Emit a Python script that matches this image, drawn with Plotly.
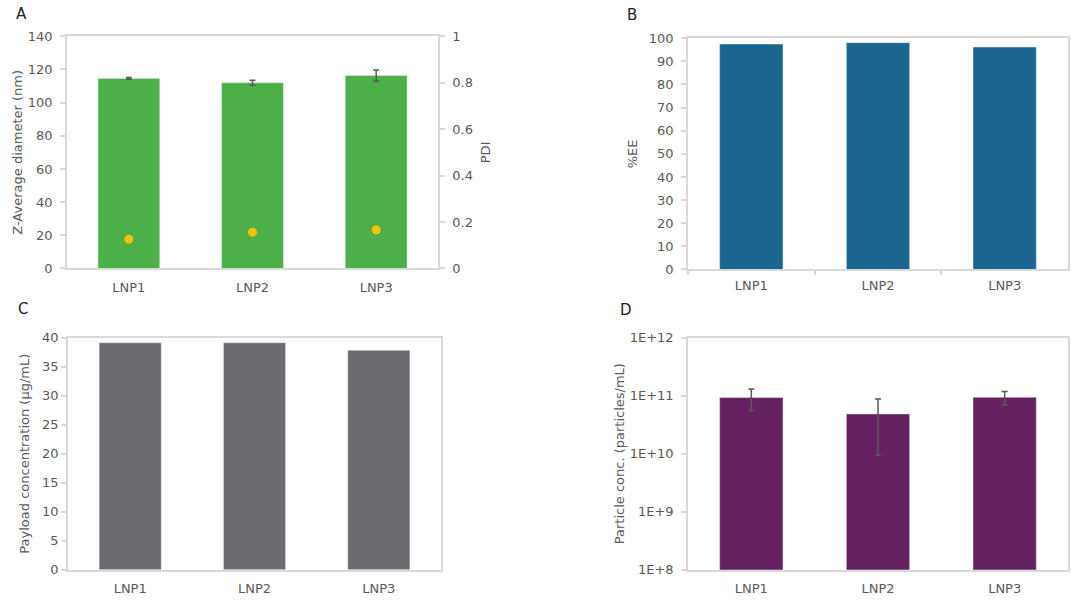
import plotly.graph_objects as go

W, H = 1071, 601

categories = ["LNP1", "LNP2", "LNP3"]

# Panel A
z_avg = [114.6, 112.0, 116.3]
z_avg_err = [0.5, 1.5, 3.4]
pdi = [0.126, 0.156, 0.167]

# Panel B
ee = [97.5, 98.1, 96.2]

# Panel C
payload = [39.1, 39.1, 37.8]

# Panel D
particles = [9.25e10, 4.84e10, 9.37e10]
particles_err = [3.7e10, 3.9e10, 2.4e10]
d_tickvals = [1e8, 1e9, 1e10, 1e11, 1e12]
d_ticktext = ["1E+8", "1E+9", "1E+10", "1E+11", "1E+12"]

GREEN = "#4DAF48"
BLUE = "#1B668E"
GREY = "#6A6B6F"
PURPLE = "#662163"
YELLOW = "#FFC000"
TXT = "#595959"
LINE = "#D9D9D9"
FONT = "DejaVu Sans, sans-serif"


def py_(t):
    # compensate the vertical offset/scale observed in the photographed page
    return t / 0.974 - 8


def xd(a, b):
    return [a / W, b / W]


def yd(top, bottom):
    return [1 - py_(bottom) / H, 1 - py_(top) / H]


err_style = dict(color=TXT, thickness=1.5, width=3)

fig = go.Figure()
fig.add_trace(go.Bar(x=categories, y=z_avg, marker_color=GREEN, width=0.5,
                     error_y=dict(type="data", array=z_avg_err, **err_style),
                     xaxis="x", yaxis="y", showlegend=False))
fig.add_trace(go.Scatter(x=categories, y=pdi, mode="markers",
                         marker=dict(color=YELLOW, size=9),
                         xaxis="x", yaxis="y2", showlegend=False))
fig.add_trace(go.Bar(x=categories, y=ee, marker_color=BLUE, width=0.5,
                     xaxis="x2", yaxis="y3", showlegend=False))
fig.add_trace(go.Bar(x=categories, y=payload, marker_color=GREY, width=0.5,
                     xaxis="x3", yaxis="y4", showlegend=False))
fig.add_trace(go.Bar(x=categories, y=particles, marker_color=PURPLE, width=0.5,
                     error_y=dict(type="data", array=particles_err, **err_style),
                     xaxis="x4", yaxis="y5", showlegend=False))

tickfont = dict(family=FONT, size=13, color=TXT)
titlefont = dict(family=FONT, size=13, color=TXT)

xcommon = dict(type="category", showline=True, linecolor=LINE, linewidth=1.5,
               mirror=True, tickfont=tickfont, showgrid=False, ticks="",
               ticklabelstandoff=6, fixedrange=True)
ycommon = dict(showline=True, linecolor=LINE, linewidth=1.5, mirror=True,
               ticks="outside", ticklen=5, tickcolor=LINE, tickwidth=1.5,
               tickfont=tickfont, showgrid=False, zeroline=False)

fig.update_layout(
    width=W, height=H,
    margin=dict(l=0, r=0, t=0, b=0),
    paper_bgcolor="white", plot_bgcolor="white",
    bargap=0.5,
    xaxis=dict(domain=xd(67, 438), anchor="y", **xcommon),
    yaxis=dict(domain=yd(37, 269), range=[0, 140], dtick=20, ticklabelstandoff=5,
               title=dict(text="Z-Average diameter (nm)", font=titlefont, standoff=2),
               **ycommon),
    yaxis2=dict(overlaying="y", side="right", anchor="x", range=[0, 1], dtick=0.2,
                showline=True, linecolor=LINE, linewidth=1.5, ticks="outside",
                ticklen=5, tickcolor=LINE, tickwidth=1.5, tickfont=tickfont,
                ticklabelstandoff=5, showgrid=False, zeroline=False,
                title=dict(text="PDI", font=titlefont, standoff=9)),
    xaxis2=dict(domain=xd(688, 1068), anchor="y3", **{**xcommon, "ticks": "outside",
                "tickson": "boundaries", "ticklen": 4, "tickcolor": LINE, "tickwidth": 1.5,
                "ticklabelstandoff": 3}),
    yaxis3=dict(domain=yd(39, 270), range=[0, 100], dtick=10, anchor="x2",
                ticklabelstandoff=5,
                title=dict(text="%EE", font=titlefont, standoff=8), **ycommon),
    xaxis3=dict(domain=xd(68, 441), anchor="y4", **xcommon),
    yaxis4=dict(domain=yd(338, 570), range=[0, 40], dtick=5, anchor="x3",
                title=dict(text="Payload concentration (µg/mL)", font=titlefont, standoff=10),
                **ycommon),
    xaxis4=dict(domain=xd(688, 1068), anchor="y5", **xcommon),
    yaxis5=dict(domain=yd(338, 570), type="log", range=[8, 12], anchor="x4",
                tickvals=d_tickvals, ticktext=d_ticktext, ticklabelstandoff=5,
                title=dict(text="Particle conc. (particles/mL)", font=titlefont, standoff=2),
                **ycommon),
)

letters = [("A", 14, 15), ("B", 625, 16), ("C", 16, 309), ("D", 618, 310)]
for t, px, pyv in letters:
    fig.add_annotation(text=t, x=px / W, y=1 - py_(pyv) / H, xref="paper", yref="paper",
                       showarrow=False, xanchor="left", yanchor="middle",
                       font=dict(family=FONT, size=15, color="#222222"))

fig.write_html("out.html", config={"displayModeBar": False},
               post_script="document.body.style.margin='0';document.body.style.overflow='hidden';")
